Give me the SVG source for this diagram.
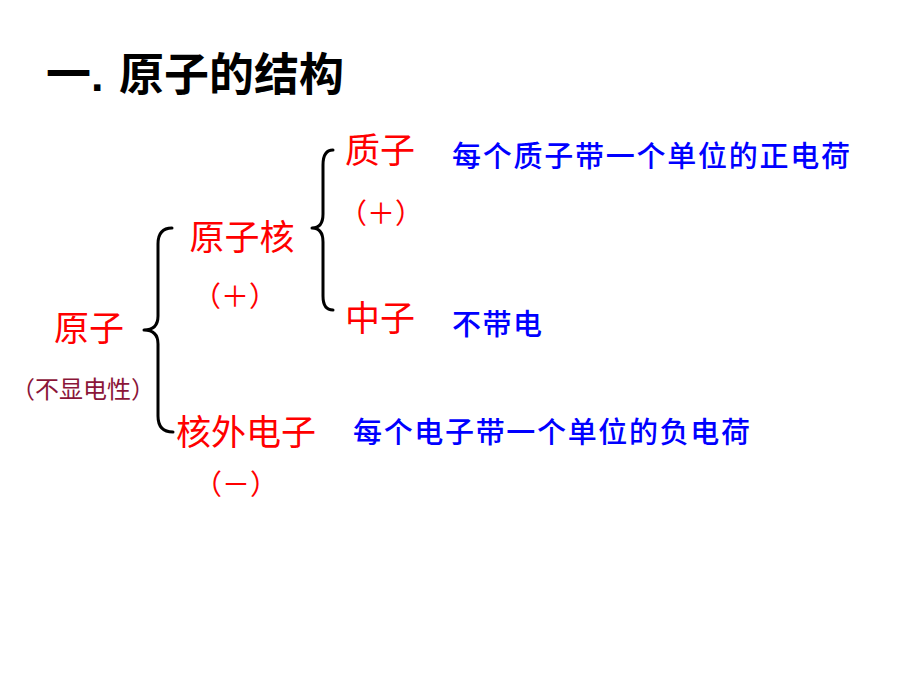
<svg xmlns="http://www.w3.org/2000/svg" width="920" height="690" viewBox="0 0 920 690">
<style>
.title{font-family:"Liberation Sans","Noto Sans CJK SC",sans-serif;font-weight:bold;font-size:45px;fill:#000}
.red{font-family:"Liberation Serif","Noto Sans CJK SC",serif;font-size:35px;fill:#FF0000}
.redsm{font-family:"Noto Sans CJK SC",sans-serif;font-size:28px;fill:#FF0000}
.maroon{font-family:"Liberation Serif","Noto Sans CJK SC",serif;font-size:24px;fill:#8B1538}
.blue{font-family:"Noto Sans CJK SC",sans-serif;font-weight:500;font-size:29px;fill:#0000FF}
.brace{fill:none;stroke:#000;stroke-width:3;stroke-linecap:round;stroke-linejoin:round}
</style>
<rect width="920" height="690" fill="#fff"/>
<g id="title"><text class="title" y="91"><tspan x="46">一.</tspan><tspan x="119">原子的结构</tspan></text></g>
<g id="connectors">
<path class="brace" d="M172,228 Q158,228 158,244 L158,316 Q158,330 144,330 Q158,330 158,344 L158,416 Q158,432 173,432"/>
<path class="brace" d="M333,150 Q323,150 323,165 L323,214 Q323,228 312,228 Q323,228 323,242 L323,296 Q323,310 333,310"/>
</g>
<g id="atom">
<text class="red" x="89" y="341" text-anchor="middle">原子</text>
<text class="maroon" x="11" y="398">（不显电性）</text>
</g>
<g id="nucleus">
<text class="red" x="242" y="250" text-anchor="middle">原子核</text>
<text class="redsm" x="235" y="307" text-anchor="middle">（＋）</text>
</g>
<g id="electron">
<text class="red" x="246" y="445" text-anchor="middle">核外电子</text>
<text class="redsm" x="236" y="495" text-anchor="middle">（－）</text>
<text class="blue" x="353" y="443" textLength="397" lengthAdjust="spacing">每个电子带一个单位的负电荷</text>
</g>
<g id="proton">
<text class="red" x="380" y="163" text-anchor="middle">质子</text>
<text class="redsm" x="381" y="224" text-anchor="middle">（＋）</text>
<text class="blue" x="452" y="167" textLength="398" lengthAdjust="spacing">每个质子带一个单位的正电荷</text>
</g>
<g id="neutron">
<text class="red" x="380" y="331" text-anchor="middle">中子</text>
<text class="blue" x="452" y="335" textLength="90" lengthAdjust="spacing">不带电</text>
</g>
</svg>
